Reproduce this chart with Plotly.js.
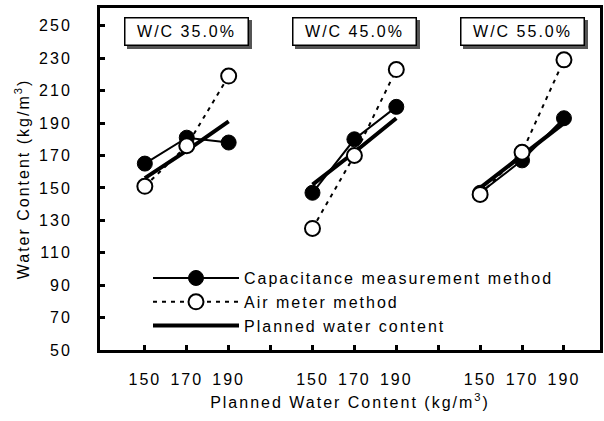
<!DOCTYPE html>
<html>
<head>
<meta charset="utf-8">
<script src="https://cdn.plot.ly/plotly-3.0.1.min.js"></script>
<style>
html,body{margin:0;padding:0;background:#fff;}
svg text{letter-spacing:2px;}
</style>
</head>
<body>
<div id="chart" style="width:604px;height:421px;"></div>
<script>
// ---- data ----
const groups = ['W/C 35.0%', 'W/C 45.0%', 'W/C 55.0%'];
const plannedLevels = ['150', '170', '190'];
const capacitance = [165, 181, 178, 147, 180, 200, 147, 167, 193];
const airMeter = [151, 176, 219, 125, 170, 223, 146, 172, 229];
const planned = [156, 173, 191, 152, 172, 193, 150, 170, 190];
const seriesNames = ['Capacitance measurement method', 'Air meter method', 'Planned water content'];

// ---- build x positions (groups separated by a gap slot) ----
const step = plannedLevels.length + 1;
function seriesXY(vals) {
  const x = [], y = [];
  groups.forEach((g, gi) => {
    plannedLevels.forEach((c, ci) => {
      x.push(gi * step + ci);
      y.push(vals[gi * plannedLevels.length + ci]);
    });
    if (gi < groups.length - 1) { x.push(gi * step + plannedLevels.length); y.push(null); }
  });
  return {x, y};
}
const tickvals = [], ticktext = [];
groups.forEach((g, gi) => {
  plannedLevels.forEach((c, ci) => { tickvals.push(gi * step + ci); ticktext.push(c); });
  if (gi < groups.length - 1) { tickvals.push(gi * step + plannedLevels.length); ticktext.push(' '); }
});

const FONT = 'Liberation Sans, Arial, sans-serif';
const FS = 16;
const cap = seriesXY(capacitance), air = seriesXY(airMeter), pl = seriesXY(planned);

const traces = [
  {x: pl.x, y: pl.y, name: seriesNames[2], type: 'scatter', mode: 'lines',
   line: {color: '#000', width: 4}, legendrank: 3, connectgaps: false},
  {x: cap.x, y: cap.y, name: seriesNames[0], type: 'scatter', mode: 'lines+markers',
   line: {color: '#000', width: 2},
   marker: {symbol: 'circle', size: 15, color: '#000', line: {color: '#000', width: 1}},
   legendrank: 1, connectgaps: false},
  {x: air.x, y: air.y, name: seriesNames[1], type: 'scatter', mode: 'lines+markers',
   line: {color: '#000', width: 2, dash: '4px,5px'},
   marker: {symbol: 'circle', size: 15, color: '#fff', line: {color: '#000', width: 2}},
   legendrank: 2, connectgaps: false}
];

const annotations = [];
groups.forEach((g, gi) => {
  const xc = gi * step + 1;
  const common = {x: xc, y: 0.93, xref: 'x', yref: 'paper', showarrow: false,
    xanchor: 'center', yanchor: 'middle', width: 118, height: 22, borderpad: 2, borderwidth: 1.5};
  annotations.push(Object.assign({}, common, {text: ' ', xshift: 3, yshift: -3,
    font: {family: FONT, size: FS, color: '#555'}, bgcolor: '#555', bordercolor: '#555'}));
  annotations.push(Object.assign({}, common, {text: g,
    font: {family: FONT, size: FS, color: '#000'}, bgcolor: '#fff', bordercolor: '#000'}));
});

const layout = {
  width: 604, height: 421,
  margin: {l: 100, r: 4, t: 8, b: 71},
  paper_bgcolor: '#fff', plot_bgcolor: '#fff',
  font: {family: FONT, size: FS, color: '#000'},
  showlegend: true,
  legend: {x: 0.096, y: 0.26, xanchor: 'left', yanchor: 'top', bgcolor: 'rgba(0,0,0,0)',
           font: {family: FONT, size: FS, color: '#000'}, itemwidth: 86, tracegroupgap: 0},
  xaxis: {range: [-1.07, 10.86], tickvals: tickvals, ticktext: ticktext,
          showgrid: false, zeroline: false, showline: true, linecolor: '#000', linewidth: 3,
          mirror: true, ticks: 'inside', ticklen: 5, tickwidth: 3, tickcolor: '#000',
          ticklabelstandoff: 13, tickfont: {family: FONT, size: FS},
          title: {text: 'Planned Water Content (kg/m<sup>3</sup>)', font: {family: FONT, size: FS}, standoff: 10}},
  yaxis: {range: [50, 261], tickvals: [50,70,90,110,130,150,170,190,210,230,250],
          showgrid: false, zeroline: false, showline: true, linecolor: '#000', linewidth: 3,
          mirror: true, ticks: 'inside', ticklen: 5, tickwidth: 3, tickcolor: '#000',
          ticklabelstandoff: 22, tickfont: {family: FONT, size: FS},
          title: {text: 'Water Content (kg/m<sup>3</sup>)', font: {family: FONT, size: FS}, standoff: 6}},
  annotations: annotations
};

Plotly.newPlot('chart', traces, layout, {displayModeBar: false, staticPlot: true});
</script>
</body>
</html>
